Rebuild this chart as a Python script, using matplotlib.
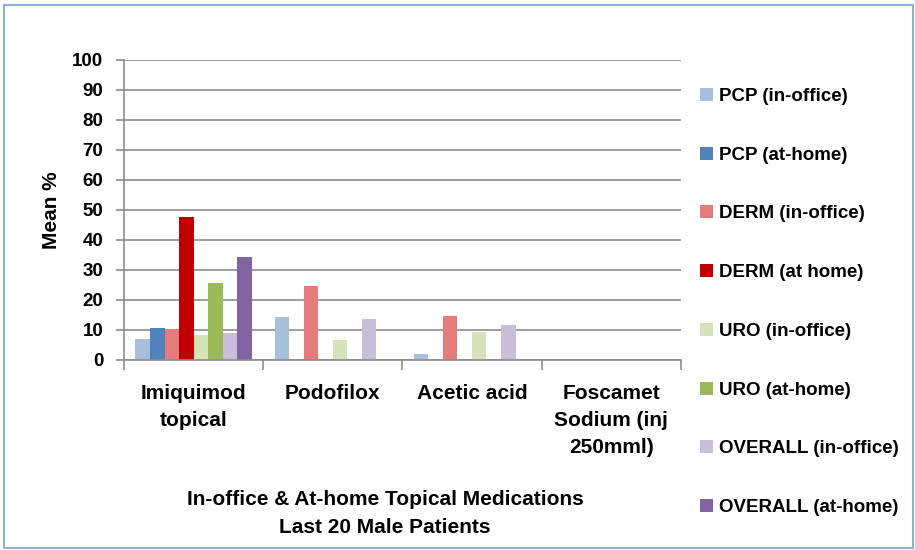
import matplotlib.pyplot as plt
import numpy as np
from matplotlib.patches import Rectangle

# topical medication use, mean % per specialty
categories = ["Imiquimod\ntopical", "Podofilox", "Acetic acid", "Foscamet\nSodium (inj\n250mml)"]
series = ["PCP (in-office)", "PCP (at-home)", "DERM (in-office)", "DERM (at home)",
          "URO (in-office)", "URO (at-home)", "OVERALL (in-office)", "OVERALL (at-home)"]
pcp_office = [7.0, 14.2, 1.9, 0]
pcp_home = [10.7, 0, 0, 0]
derm_office = [10.4, 24.8, 14.7, 0]
derm_home = [47.6, 0, 0, 0]
uro_office = [8.3, 6.6, 9.4, 0]
uro_home = [25.6, 0, 0, 0]
overall_office = [9.1, 13.6, 11.8, 0]
overall_home = [34.4, 0, 0, 0]
colors = ["#A5BFDD", "#4F81BD", "#E57B7B", "#C00000",
          "#D4E3B8", "#9BBB59", "#C9BDDA", "#8064A2"]

values = [pcp_office, pcp_home, derm_office, derm_home,
          uro_office, uro_home, overall_office, overall_home]

plt.rcParams['font.family'] = ['Liberation Sans', 'DejaVu Sans']
plt.rcParams['font.weight'] = 'bold'

fig = plt.figure(figsize=(9.15, 5.5), dpi=100)
ax = fig.add_axes([0.1355, 0.3455, 0.6085, 0.5455])

x = np.arange(len(categories))
n = len(series)
w = 0.835 / n
for i, (name, vals, c) in enumerate(zip(series, values, colors)):
    ax.bar(x - 0.835 / 2 + w * (i + 0.5), vals, width=w, color=c, label=name)

ax.set_xlim(-0.5, len(categories) - 0.5)
ax.set_ylim(0, 100)
ax.set_yticks(range(0, 101, 10))
ax.yaxis.grid(True, color="#8C8C8C", linewidth=1.2)
ax.set_axisbelow(True)
for s in ["top", "right"]:
    ax.spines[s].set_visible(False)
for s in ["left", "bottom"]:
    ax.spines[s].set_color("#8C8C8C")
    ax.spines[s].set_linewidth(1.2)

ax.set_xticks(np.arange(-0.5, len(categories), 1.0))
ax.set_xticklabels([])
ax.set_xticks(x, minor=True)
ax.set_xticklabels(categories, minor=True, fontsize=15, fontweight='bold', linespacing=1.55)
ax.tick_params(axis='x', which='major', length=7, color="#8C8C8C", width=1.2)
ax.tick_params(axis='x', which='minor', length=0, pad=17)
ax.tick_params(axis='y', length=6, color="#8C8C8C", width=1.2, labelsize=13.5, pad=9)

ax.set_ylabel("Mean %", fontsize=15, fontweight='bold', labelpad=8)

fig.text(0.421, 0.066, "In-office & At-home Topical Medications\nLast 20 Male Patients",
         ha='center', va='center', fontsize=15, fontweight='bold', linespacing=1.6)

leg = fig.legend(loc='upper left', bbox_to_anchor=(0.757, 0.854), frameon=False,
                 fontsize=13.5, handlelength=0.7, handleheight=0.7,
                 handletextpad=0.3, labelspacing=2.22, borderaxespad=0)

fig.patches.append(Rectangle((0.004, 0.004), 0.994, 0.987, transform=fig.transFigure,
                             fill=False, edgecolor="#8EB1DA", linewidth=1.5))

fig.savefig("out.png", dpi=100)
